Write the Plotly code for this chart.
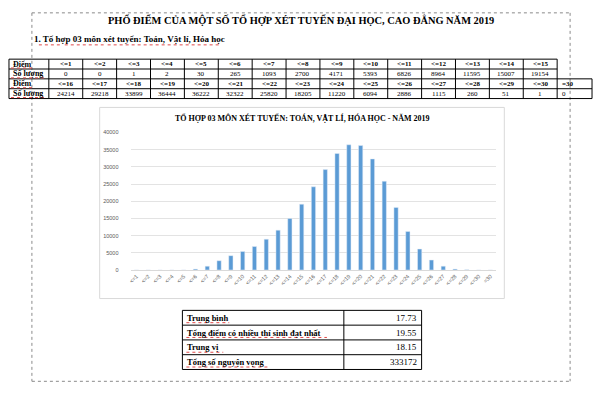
import plotly.graph_objects as go

W, H = 600, 404

score_labels = ["<=1", "<=2", "<=3", "<=4", "<=5", "<=6", "<=7", "<=8", "<=9", "<=10",
                "<=11", "<=12", "<=13", "<=14", "<=15", "<=16", "<=17", "<=18", "<=19", "<=20",
                "<=21", "<=22", "<=23", "<=24", "<=25", "<=26", "<=27", "<=28", "<=29", "<=30", "=30"]
counts = [0, 0, 1, 2, 30, 265, 1093, 2700, 4171, 5393,
          6826, 8964, 11595, 15007, 19154, 24214, 29218, 33899, 36444, 36222,
          32322, 25820, 18205, 11220, 6094, 2886, 1115, 260, 51, 1, 0]

stat_labels = ["Trung bình", "Tổng điểm có nhiều thí sinh đạt nhất", "Trung vị", "Tổng số nguyện vọng"]
stat_values = ["17.73", "19.55", "18.15", "333172"]

page_title = "PHỔ ĐIỂM CỦA MỘT SỐ TỔ HỢP XÉT TUYỂN ĐẠI HỌC, CAO ĐẲNG NĂM 2019"
section_title = "1. Tổ hợp 03 môn xét tuyển: Toán, Vật lí, Hóa học"
chart_title = "TỔ HỢP 03 MÔN XÉT TUYỂN: TOÁN, VẬT LÍ, HÓA HỌC - NĂM 2019"
row_label_score = "Điểm"
row_label_count = "Số lượng"

SERIF = "Liberation Serif"


def px(x):
    return x / W


def py(y):
    return 1 - y / H


shapes = []
annotations = []


def line(x0, y0, x1, y1, color="black", width=1, dash=None):
    ln = dict(color=color, width=width)
    if dash:
        ln["dash"] = dash
    shapes.append(dict(type="line", xref="paper", yref="paper",
                       x0=px(x0), y0=py(y0), x1=px(x1), y1=py(y1), line=ln))


def squiggle(x0, x1, y):
    # spell-check style red dotted underline
    line(x0, y, x1, y, color="#E04848", width=1, dash="dot")


def text(x, y, s, size=8, bold=False, xanchor="center", color="black", family=SERIF):
    t = "<b>%s</b>" % s if bold else s
    annotations.append(dict(xref="paper", yref="paper", x=px(x), y=py(y), text=t,
                            showarrow=False, xanchor=xanchor, yanchor="middle",
                            font=dict(family=family, size=size, color=color)))


# page frame (dotted)
FRAME = "#8a8a8a"
line(30, 10, 570, 10, color=FRAME, dash="dot")
line(30, 10, 30, 384, color=FRAME, dash="dot")
line(570, 10, 570, 384, color=FRAME, dash="dot")
line(30, 384, 570, 384, color=FRAME, dash="dot")

# titles
text(300, 17, page_title, size=10.4, bold=True)
text(30, 37, section_title, size=9, bold=True, xanchor="left")
squiggle(37, 58, 42.5)
squiggle(63, 102, 42.5)
squiggle(106, 218, 42.5)

# top table
rows_y = [57, 67, 77, 87, 97]
lab_x0, lab_x1 = 7, 47
cw = 34.0
cols = [lab_x0, lab_x1] + [lab_x1 + cw * i for i in range(1, 16)]
right1 = cols[-1]
right2 = right1 + 35
line(lab_x0, 57, right1, 57)
line(lab_x0, 67, right1, 67)
for yy in (77, 87, 97):
    line(lab_x0, yy, right2, yy)
for xx in cols:
    line(xx, 57, xx, 97)
line(right2, 77, right2, 97)

for r, (labels, vals) in enumerate([(score_labels[0:15], counts[0:15]),
                                    (score_labels[15:31], counts[15:31])]):
    yh = (rows_y[2 * r] + rows_y[2 * r + 1]) / 2
    yv = (rows_y[2 * r + 1] + rows_y[2 * r + 2]) / 2
    text(9, yh, row_label_score, size=8, bold=True, xanchor="left")
    text(9, yv, row_label_count, size=8, bold=True, xanchor="left")
    squiggle(9, 31, yh + 4)
    squiggle(9, 45, yv + 4)
    for i, (lb, v) in enumerate(zip(labels, vals)):
        if i < 15:
            cx = lab_x1 + cw * i + cw / 2
            text(cx, yh, lb, size=7, bold=True)
            text(cx, yv, str(v), size=7)
        else:
            text(right1 + 3, yh, lb, size=7, bold=True, xanchor="left")
            text(right1 + 3, yv, str(v), size=7, xanchor="left")

# chart frame
shapes.append(dict(type="rect", xref="paper", yref="paper", x0=px(98), x1=px(504),
                   y0=py(300), y1=py(106), line=dict(color="#D9D9D9", width=1)))
text(301, 117, chart_title, size=8, bold=True)

# bottom stats table
bx0, bx1, bx2 = 181, 343, 421
brows = [312, 327, 342, 357, 372]
ul_ends = [228, 326, 222, 267]
for yy in brows:
    line(bx0, yy, bx2, yy)
for xx in (bx0, bx1, bx2):
    line(xx, brows[0], xx, brows[-1])
for i, (lb, v) in enumerate(zip(stat_labels, stat_values)):
    yc = (brows[i] + brows[i + 1]) / 2
    text(bx0 + 3, yc, lb, size=8.5, bold=True, xanchor="left")
    text(bx2 - 3, yc, v, size=9, xanchor="right")
    squiggle(bx0 + 4, ul_ends[i], yc + 5)

fig = go.Figure(go.Bar(x=score_labels, y=counts, marker_color="#5B9BD5"))

fig.update_layout(
    width=W, height=H,
    margin=dict(l=0, r=0, t=0, b=0),
    paper_bgcolor="white", plot_bgcolor="white",
    showlegend=False,
    bargap=0.64,
    shapes=shapes,
    annotations=annotations,
    xaxis=dict(domain=[px(129), px(496)], tickangle=-45,
               tickfont=dict(family="Liberation Sans", size=5.5, color="#595959"),
               showgrid=False, showline=True, linecolor="#D9D9D9", linewidth=1,
               ticks="", fixedrange=True),
    yaxis=dict(domain=[py(271), py(131.5)], range=[0, 40000], dtick=5000,
               tickformat="d",
               tickfont=dict(family="Liberation Sans", size=5.5, color="#595959"),
               gridcolor="#E3E3E3", gridwidth=1, zeroline=False, showline=False,
               ticks="outside", ticklen=10, tickcolor="rgba(0,0,0,0)", fixedrange=True),
)

fig.write_html("out.html", config={"displayModeBar": False},
               post_script="document.body.style.margin='0';")
